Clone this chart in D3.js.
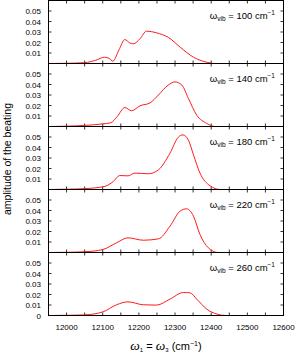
<!DOCTYPE html>
<html>
<head>
<meta charset="utf-8">
<script src="https://cdn.jsdelivr.net/npm/d3@7"></script>
<style>
  html, body { margin: 0; padding: 0; background: #fff; }
  svg { display: block; font-family: "Liberation Sans", Arial, sans-serif; }
</style>
</head>
<body>
<svg id="chart" width="297" height="355"></svg>
<script>
// five stacked panels, one per vibrational frequency
const vibLabels = ["100", "140", "180", "220", "260"];

const wn100 = [11950, 12000, 12050, 12080, 12105, 12118, 12128, 12145, 12161, 12175, 12185, 12203, 12221, 12249, 12265, 12281, 12314, 12351, 12388, 12410, 12600];
const amp100 = [0, 0.0002, 0.0008, 0.003, 0.006, 0.0048, 0.0022, 0.013, 0.0228, 0.0195, 0.0188, 0.0235, 0.0308, 0.0292, 0.0275, 0.025, 0.0156, 0.006, 0.0012, 0, 0];

const wn140 = [11950, 12000, 12050, 12100, 12122, 12140, 12161, 12180, 12203, 12231, 12254, 12281, 12300, 12319, 12337, 12360, 12388, 12410, 12600];
const amp140 = [0, 0.0003, 0.001, 0.0025, 0.0035, 0.0095, 0.018, 0.015, 0.0197, 0.0225, 0.030, 0.0394, 0.0425, 0.0394, 0.0267, 0.0108, 0.0029, 0, 0];

const wn180 = [11950, 12000, 12050, 12106, 12129, 12147, 12170, 12189, 12226, 12254, 12286, 12309, 12322, 12337, 12351, 12369, 12397, 12425, 12600];
const amp180 = [0, 0.0003, 0.0008, 0.003, 0.0076, 0.0133, 0.013, 0.0156, 0.015, 0.0187, 0.0346, 0.0498, 0.052, 0.047, 0.033, 0.0156, 0.0035, 0, 0];

const wn220 = [11950, 12000, 12050, 12101, 12138, 12170, 12212, 12254, 12286, 12314, 12332, 12351, 12369, 12392, 12419, 12600];
const amp220 = [0, 0.0002, 0.0007, 0.0029, 0.0092, 0.014, 0.0117, 0.013, 0.025, 0.0394, 0.0416, 0.0346, 0.0171, 0.0045, 0, 0];

const wn260 = [11950, 12000, 12050, 12101, 12138, 12170, 12212, 12249, 12286, 12323, 12342, 12360, 12388, 12416, 12440, 12600];
const amp260 = [0, 0.0002, 0.0006, 0.0035, 0.0102, 0.013, 0.0102, 0.0099, 0.0156, 0.0219, 0.0215, 0.0156, 0.006, 0.0013, 0, 0];

const panels = [
  { label: vibLabels[0], wn: wn100, amp: amp100 },
  { label: vibLabels[1], wn: wn140, amp: amp140 },
  { label: vibLabels[2], wn: wn180, amp: amp180 },
  { label: vibLabels[3], wn: wn220, amp: amp220 },
  { label: vibLabels[4], wn: wn260, amp: amp260 },
];

const yTickVals = [0.01, 0.02, 0.03, 0.04, 0.05];
const xLabelVals = [12000, 12100, 12200, 12300, 12400, 12500, 12600];
const xTickVals = d3.range(12000, 12600, 50);

const plotL = 48.5, plotR = 283.5, plotT = 0.5, panelH = 63;

const svg = d3.select("#chart");
const x = d3.scaleLinear().domain([11950, 12600]).range([plotL, plotR]);

panels.forEach((p, i) => {
  const y0 = plotT + i * panelH;
  const y = d3.scaleLinear().domain([0, 0.06]).range([y0 + panelH, y0]);
  const g = svg.append("g");

  // inward ticks, mirrored on all four sides
  g.selectAll("line.xt").data(xTickVals).join("line")
    .attr("x1", (d) => x(d)).attr("x2", (d) => x(d))
    .attr("y1", y0 + panelH).attr("y2", y0 + panelH - 3)
    .attr("stroke", "#000").attr("stroke-width", 0.8);
  g.selectAll("line.xt2").data(xTickVals).join("line")
    .attr("x1", (d) => x(d)).attr("x2", (d) => x(d))
    .attr("y1", y0).attr("y2", y0 + 3)
    .attr("stroke", "#000").attr("stroke-width", 0.8);
  g.selectAll("line.yt").data(yTickVals).join("line")
    .attr("x1", plotL).attr("x2", plotL + 3)
    .attr("y1", (d) => y(d)).attr("y2", (d) => y(d))
    .attr("stroke", "#000").attr("stroke-width", 0.8);
  g.selectAll("line.yt2").data(yTickVals).join("line")
    .attr("x1", plotR).attr("x2", plotR - 3)
    .attr("y1", (d) => y(d)).attr("y2", (d) => y(d))
    .attr("stroke", "#000").attr("stroke-width", 0.8);

  // y tick labels
  const labs = i === panels.length - 1 ? [0].concat(yTickVals) : yTickVals;
  g.selectAll("text.yl").data(labs).join("text")
    .attr("x", 41).attr("y", (d) => y(d) + 3)
    .attr("text-anchor", "end").attr("font-size", 8).attr("fill", "#000")
    .text((d) => (d === 0 ? "0" : d.toFixed(2)));

  // curve
  const pts = p.wn.map((w, k) => [w, p.amp[k]]);
  g.append("path")
    .datum(pts)
    .attr("fill", "none").attr("stroke", "#ff1a1a").attr("stroke-width", 1)
    .attr("d", d3.line().x((d) => x(d[0])).y((d) => y(d[1])).curve(d3.curveMonotoneX));

  // frame
  g.append("rect")
    .attr("x", plotL).attr("y", y0).attr("width", plotR - plotL).attr("height", panelH)
    .attr("fill", "none").attr("stroke", "#000").attr("stroke-width", 1);

  // key
  const t = g.append("text")
    .attr("x", 275).attr("y", y0 + 18)
    .attr("text-anchor", "end").attr("font-size", 9.5).attr("fill", "#000");
  t.append("tspan").text("ω");
  t.append("tspan").attr("font-size", 6.5).attr("dy", 2).text("vib");
  t.append("tspan").attr("dy", -2).text(" = " + p.label + " cm");
  t.append("tspan").attr("font-size", 6.5).attr("dy", -3.5).text("−1");
});

// x tick labels
svg.selectAll("text.xl").data(xLabelVals).join("text")
  .attr("x", (d) => x(d)).attr("y", 330)
  .attr("text-anchor", "middle").attr("font-size", 8).attr("fill", "#000")
  .text((d) => d);

// axis titles
svg.append("text")
  .attr("transform", "translate(11,159) rotate(-90)")
  .attr("text-anchor", "middle").attr("font-size", 10.5).attr("fill", "#000")
  .text("amplitude of the beating");

const xt = svg.append("text")
  .attr("x", 166).attr("y", 350)
  .attr("text-anchor", "middle").attr("font-size", 11).attr("fill", "#000");
xt.append("tspan").attr("font-family", "Liberation Serif, serif").attr("font-style", "italic").attr("font-size", 13.5).text("ω");
xt.append("tspan").attr("font-size", 6).attr("dy", 2).text("1");
xt.append("tspan").attr("dy", -2).text(" = ");
xt.append("tspan").attr("font-family", "Liberation Serif, serif").attr("font-style", "italic").attr("font-size", 13.5).text("ω");
xt.append("tspan").attr("font-size", 6).attr("dy", 2).text("3");
xt.append("tspan").attr("dy", -2).text(" (cm");
xt.append("tspan").attr("font-size", 7).attr("dy", -4).text("−1");
xt.append("tspan").attr("dy", 4).text(")");
</script>
</body>
</html>
